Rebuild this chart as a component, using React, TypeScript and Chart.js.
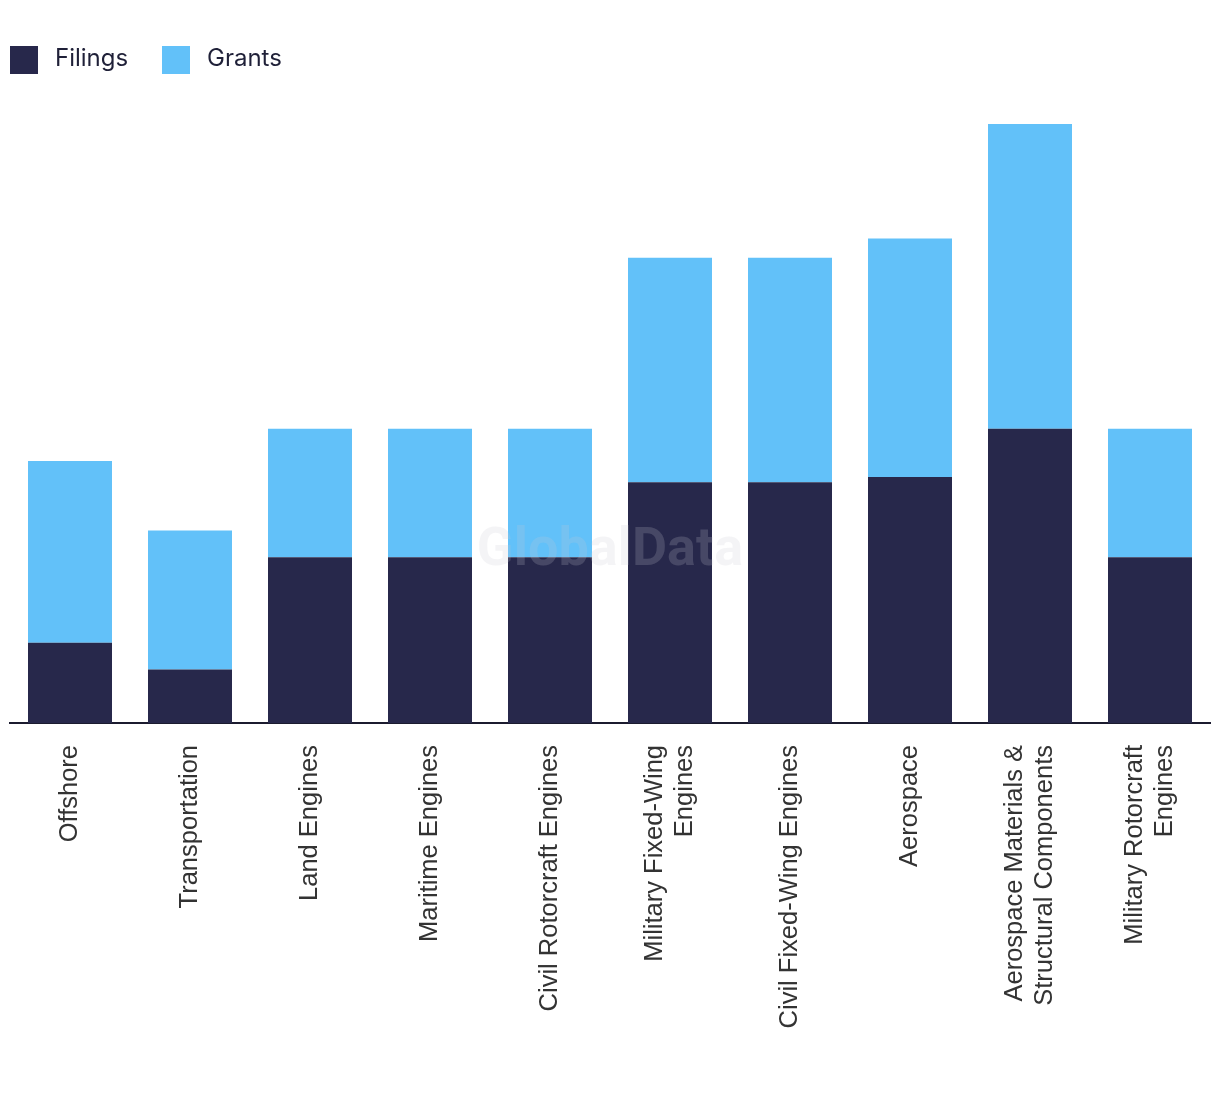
import React, { useEffect, useRef } from "react";
import { Chart, registerables } from "chart.js";

Chart.register(...registerables);

const categories: (string | string[])[] = [
  "Offshore",
  "Transportation",
  "Land Engines",
  "Maritime Engines",
  "Civil Rotorcraft Engines",
  ["Military Fixed-Wing", "Engines"],
  "Civil Fixed-Wing Engines",
  "Aerospace",
  ["Aerospace Materials &", "Structural Components"],
  ["Military Rotorcraft", "Engines"],
];

const filings = [15, 10, 31, 31, 31, 45, 45, 46, 55, 31];
const grants = [34, 26, 24, 24, 24, 42, 42, 44.6, 57, 24];

const seriesNames = ["Filings", "Grants"];
const seriesColors = ["#27284b", "#62c1f9"];

const yMax = 112;

const legendPlugin = {
  id: "customLegend",
  afterDraw(chart: any) {
    const ctx = chart.ctx;
    ctx.save();
    const boxXs = [10, 162];
    chart.data.datasets.forEach((ds: any, i: number) => {
      const x = boxXs[i];
      ctx.fillStyle = ds.backgroundColor;
      ctx.fillRect(x, 46, 28, 28);
      ctx.fillStyle = "#1f2038";
      ctx.font = "24px Inter";
      ctx.textBaseline = "alphabetic";
      ctx.textAlign = "left";
      ctx.fillText(ds.label, x + 45, 66);
    });
    ctx.restore();
  },
};

const centerMultiLinePlugin = {
  id: "centerMultiLine",
  beforeDraw(chart: any) {
    const s = chart.scales.x;
    const items = s.getLabelItems();
    items.forEach((it: any) => {
      if (it.__centered) return;
      if (Array.isArray(it.label) && it.label.length > 1) {
        const lh = it.font.lineHeight;
        it.options.translation[0] -= ((it.label.length - 1) * lh) / 2;
      }
      it.__centered = true;
    });
  },
};

const watermarkPlugin = {
  id: "watermark",
  afterDatasetsDraw(chart: any) {
    const ctx = chart.ctx;
    ctx.save();
    ctx.font = "bold 54px Roboto";
    ctx.fillStyle = "rgba(200,200,212,0.2)";
    ctx.textAlign = "center";
    ctx.textBaseline = "alphabetic";
    ctx.fillText("GlobalData", 610, 565);
    ctx.restore();
  },
};

export default function App() {
  const ref = useRef<HTMLCanvasElement | null>(null);

  useEffect(() => {
    if (!ref.current) return;
    const chart = new Chart(ref.current, {
      type: "bar",
      data: {
        labels: categories,
        datasets: [
          {
            label: seriesNames[0],
            data: filings,
            backgroundColor: seriesColors[0],
            categoryPercentage: 0.7,
            barPercentage: 1.0,
          },
          {
            label: seriesNames[1],
            data: grants,
            backgroundColor: seriesColors[1],
            categoryPercentage: 0.7,
            barPercentage: 1.0,
          },
        ],
      },
      options: {
        animation: false,
        responsive: true,
        maintainAspectRatio: false,
        layout: { padding: { left: 10, right: 10, top: 124, bottom: 0 } },
        plugins: {
          legend: { display: false },
          tooltip: { enabled: false },
        },
        scales: {
          x: {
            stacked: true,
            grid: { display: false, drawTicks: false },
            border: { display: true, color: "#1b1b2f", width: 2 },
            afterFit: (scale: any) => {
              scale.height = 371;
              scale.paddingLeft = 0;
              scale.paddingRight = 0;
            },
            ticks: {
              autoSkip: false,
              maxRotation: 90,
              minRotation: 90,
              padding: 22,
              color: "#333333",
              font: { family: "Liberation Sans", size: 25.5 },
            },
          },
          y: {
            stacked: true,
            display: false,
            min: 0,
            max: yMax,
          },
        },
      },
      plugins: [legendPlugin, centerMultiLinePlugin, watermarkPlugin],
    });
    return () => chart.destroy();
  }, []);

  return (
    <div style={{ position: "absolute", left: 0, top: 0, width: 1220, height: 1094, background: "#fff" }}>
      <canvas ref={ref} />
    </div>
  );
}
